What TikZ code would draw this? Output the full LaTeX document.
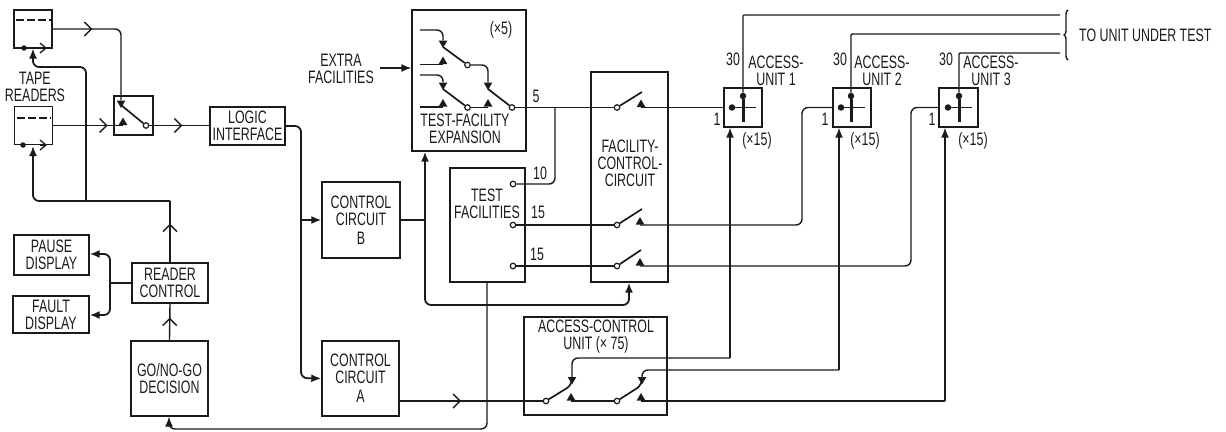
\documentclass[tikz,border=0pt]{standalone}
\usepackage{fontspec}
\setmainfont[FakeStretch=0.69]{Liberation Sans}
\usetikzlibrary{arrows.meta,shapes.geometric,decorations.markings,decorations.pathreplacing}
\definecolor{ink}{HTML}{1A1A1A}
\tikzset{
 blk/.style={draw=ink,line width=1.4pt,inner sep=0pt,align=center,text=ink,font=\fontsize{18}{17}\selectfont},
 lab/.style={inner sep=0pt,align=center,text=ink,font=\fontsize{18}{17}\selectfont},
 conn/.style={draw=ink,line width=1.4pt,rounded corners=6pt},
 heavy/.style={conn,line width=1.8pt},
 ftip/.style={-{Latex[length=10pt,width=8pt]}},
 openat/.style={postaction={decorate,decoration={markings,mark=at position #1 with {\arrow[ink,line width=1.4pt]{Straight Barb[length=7pt,width=14pt]}}}}},
 hole/.style={circle,draw=ink,fill=white,line width=1.2pt,inner sep=0pt,minimum size=5.5pt},
 dot/.style={circle,fill=ink,inner sep=0pt,minimum size=6.5pt},
 triup/.style={regular polygon,regular polygon sides=3,fill=ink,inner sep=0pt,minimum size=10pt},
 tridn/.style={triup,shape border rotate=180},
}
\begin{document}
\begin{tikzpicture}[x=1pt,y=-1pt]
\useasboundingbox (0,0) rectangle (1226,431);
% blocks
\node[blk,minimum width=38pt,minimum height=38pt] (r1) at (33,29) {};
\node[blk,minimum width=38pt,minimum height=38pt] (r2) at (33.5,125.5) {};
\node[lab] (tape) at (35,86.5) {TAPE\\READERS};
\node[blk,minimum width=39pt,minimum height=39pt] (sw) at (133.5,115.5) {};
\node[blk,minimum width=75pt,minimum height=38pt] (logic) at (247.5,126) {LOGIC\\INTERFACE};
\node[blk,minimum width=75pt,minimum height=40pt] (pause) at (51.5,255) {PAUSE\\DISPLAY};
\node[blk,minimum width=76pt,minimum height=37pt] (fault) at (51,314.5) {FAULT\\DISPLAY};
\node[blk,minimum width=76pt,minimum height=40pt] (rc) at (170,283) {READER\\CONTROL};
\node[blk,minimum width=77pt,minimum height=75pt] (go) at (169.5,378.5) {GO/NO-GO\\DECISION};
\node[blk,minimum width=78pt,minimum height=76pt] (ccb) at (361,220) {CONTROL\\CIRCUIT\\[2pt]B};
\node[blk,minimum width=77pt,minimum height=75pt] (cca) at (360.5,378.5) {CONTROL\\CIRCUIT\\[2pt]A};
\node[blk,minimum width=114pt,minimum height=141pt] (tfe) at (469,80.5) {};
\node[lab] (tfel) at (465,128.5) {TEST-FACILITY\\EXPANSION};
\node[lab] (tfem) at (501,30) {(×5)};
\node[lab] (extra) at (341,68.5) {EXTRA\\FACILITIES};
\node[blk,minimum width=75pt,minimum height=114pt] (tf) at (487.5,225) {};
\node[lab] (tfl) at (487,203.5) {TEST\\FACILITIES};
\node[blk,minimum width=77pt,minimum height=210pt] (fcc) at (629.5,177) {};
\node[lab] (fccl) at (630,163.5) {FACILITY-\\CONTROL-\\CIRCUIT};
\node[blk,minimum width=143pt,minimum height=98pt] (acu) at (595.5,366) {};
\node[lab] (acul) at (596,336.5) {ACCESS-CONTROL\\UNIT (× 75)};
\node[blk,minimum width=38pt,minimum height=39pt] (au1) at (743,107.5) {};
\node[blk,minimum width=38pt,minimum height=39pt] (au2) at (852,107.5) {};
\node[blk,minimum width=39pt,minimum height=39pt] (au3) at (958.5,107.5) {};
% labels
\node[lab] (n30a) at (733,59) {30};
\node[lab] (n30b) at (840,59) {30};
\node[lab] (n30c) at (946,59) {30};
\node[lab] (ua) at (776,70.5) {ACCESS-\\UNIT 1};
\node[lab] (ub) at (882,70.5) {ACCESS-\\UNIT 2};
\node[lab] (uc) at (991,71) {ACCESS-\\UNIT 3};
\node[lab] (n1a) at (717,119) {1};
\node[lab] (n1b) at (825,119) {1};
\node[lab] (n1c) at (932,119) {1};
\node[lab] (xa) at (757,141) {(×15)};
\node[lab] (xb) at (865,141) {(×15)};
\node[lab] (xc) at (973,141) {(×15)};
\node[lab] (n5) at (536,96) {5};
\node[lab] (n10) at (540,173) {10};
\node[lab] (n15a) at (538,212) {15};
\node[lab] (n15b) at (537,254) {15};
\node[lab,anchor=west] (uut) at (1079,35) {TO UNIT UNDER TEST};
% reader internals
\draw[ink,line width=1.3pt,dash pattern=on 8pt off 3pt] (16,20) -- (51,20);
\draw[ink,line width=1.3pt,dash pattern=on 8pt off 3pt] (17,118) -- (51,118);
\node[dot,minimum size=5.5pt] (d1) at (24,48) {};
\node[dot,minimum size=5.5pt] (d2) at (23,145) {};
\coordinate (o1) at (47,48);
\coordinate (o1a) at (40,48);
\coordinate (o2) at (47,145);
\coordinate (o2a) at (40,145);
\draw[ink,line width=1.3pt,-{Straight Barb[length=6pt,width=10pt]}] (o1a) -- (o1);
\draw[ink,line width=1.3pt,-{Straight Barb[length=6pt,width=10pt]}] (o2a) -- (o2);
% input selector
\node[tridn] (swd) at (121,103) {};
\node[triup] (swt) at (123,122.5) {};
\node[hole] (swh) at (146,125.5) {};
\draw[conn,line width=1.7pt] (swd.center) ++(0,2) -- (swh);
\draw[conn,openat=0.29] (r1.east) -| (swd);
\draw[conn,openat=0.78] (r2.east) -- (r2.east -| swt);
\draw[conn,openat=0.55] (swh) -- (swh -| logic.west);
% reader control feedback
\coordinate (fb1) at (170,201);
\coordinate (fb2) at (33,201);
\coordinate (fb3) at (86,201);
\coordinate (fb4) at (86,67);
\coordinate (fb5) at (33,67);
\coordinate (r1in) at (33,48.5);
\coordinate (r2in) at (33,146);
\draw[heavy,ftip] (fb1) -- (fb2) -- (r2in);
\draw[heavy,ftip] (fb3) -- (fb4) -- (fb5) -- (r1in);
\draw[conn,line width=1.6pt,openat=0.63] (rc.north) -- (fb1);
\draw[conn,openat=0.62] (go.north) -- (rc.south);
% displays
\coordinate (j0) at (110,283);
\coordinate (j1) at (110,254);
\coordinate (j2) at (110,315);
\draw[conn] (rc.west) -- (j0);
\draw[heavy,ftip] (j0) -- (j1) -- (pause.east |- j1);
\draw[heavy,ftip] (j0) -- (j2) -- (fault.east |- j2);
% logic to control circuits
\coordinate (l1) at (301,126);
\coordinate (l2) at (301,220);
\coordinate (l3) at (301,378);
\draw[heavy] (logic.east) -- (l1) -- (l2);
\draw[heavy,ftip] (l2) -- (l3) -- (cca.west);
\draw[heavy,ftip] (l2) -- (ccb.west);
% control B outputs
\coordinate (b1) at (425,220);
\coordinate (b2) at (425,305);
\coordinate (b3) at (629,305);
\draw[heavy] (ccb.east) -- (b1);
\draw[heavy,ftip] (b1) -- (tfe.south -| b1);
\draw[heavy,ftip] (b1) -- (b2) -- (b3) -- (fcc.south -| b3);
% test facility expansion
\node[tridn] (ea) at (443,43) {};
\node[triup] (eb) at (443,61.5) {};
\node[hole] (ec) at (467.5,65) {};
\node[tridn] (ed) at (488,85) {};
\node[tridn] (ee) at (443,85) {};
\node[triup] (ef) at (443,104) {};
\node[hole] (eg) at (467.5,107.5) {};
\node[triup] (eh) at (488,104) {};
\node[hole] (ei) at (512,107.5) {};
\coordinate (e1) at (420,30);
\coordinate (e2) at (420,64.5);
\coordinate (e3) at (420,75);
\coordinate (e4) at (420,107);
\coordinate (xs) at (380,68);
\draw[conn] (e1) -| (ea);
\draw[conn] (e2) -- (e2 -| eb);
\draw[conn] (e3) -| (ee);
\draw[conn] (e4) -- (e4 -| ef);
\draw[conn,line width=1.7pt] (ea.center) ++(0,4) -- (ec);
\draw[conn,line width=1.7pt] (ee.center) ++(0,4) -- (eg);
\draw[conn,line width=1.7pt] (ed.center) ++(0,4) -- (ei);
\draw[conn] (ec) -| (ed);
\draw[conn] (eg) -- (eg -| eh);
\draw[conn,ftip] (xs) -- (xs -| tfe.west);
% facility-control switches
\node[hole] (fa) at (617,107.5) {};
\node[triup] (fat) at (641,104.5) {};
\coordinate (fab) at (642,92);
\node[hole] (fb) at (617,225) {};
\node[triup] (fbt) at (640,222) {};
\coordinate (fbb) at (642,209);
\node[hole] (fc) at (617,266) {};
\node[triup] (fct) at (640,263) {};
\coordinate (fcb) at (641,250);
\draw[conn,line width=1.7pt] (fa) -- (fab);
\draw[conn,line width=1.7pt] (fb) -- (fbb);
\draw[conn,line width=1.7pt] (fc) -- (fcb);
% test facilities terminals
\node[hole] (ta) at (513,184) {};
\node[hole] (tb) at (513,225) {};
\node[hole] (tc) at (513,266) {};
\coordinate (tj) at (555,107.5);
\draw[conn] (ei) -- (fa);
\draw[conn] (ta) -| (tj);
\draw[conn] (tb) -- (fb);
\draw[conn] (tc) -- (fc);
% outputs to access units
\coordinate (p2) at (802,225);
\coordinate (p3) at (911,266);
\draw[conn] (fat |- fa) -- (au1.west);
\draw[conn] (fbt |- fb) -- (p2) -- (p2 |- au2.west) -- (au2.west);
\draw[conn] (fct |- fc) -- (p3) -- (p3 |- au3.west) -- (au3.west);
% access-control unit
\node[hole] (aa) at (546,401) {};
\node[hole] (ab) at (617,401) {};
\node[tridn] (ac) at (572,379.5) {};
\node[tridn] (ad) at (642,379.5) {};
\node[triup] (at) at (571,398) {};
\node[triup] (bt) at (641,398) {};
\coordinate (ab1) at (572,385);
\coordinate (ab2) at (642,385);
\draw[conn,line width=1.7pt] (aa) -- (ab1) -- (ac.center);
\draw[conn,line width=1.7pt] (ab) -- (ab2) -- (ad.center);
\draw[conn,openat=0.43] (cca.east |- aa) -- (aa);
\draw[conn] (aa -| at) -- (ab);
\coordinate (k1) at (730,358);
\coordinate (k2) at (839,370);
\coordinate (k3) at (945,401);
\coordinate (k1a) at (572,358);
\coordinate (k2a) at (642,370);
\draw[conn] (ac) -- (k1a) -- (k1);
\draw[conn] (ad) -- (k2a) -- (k2);
\draw[conn,line width=1.5pt,ftip] (k1) -- (au1.south -| k1);
\draw[conn,line width=1.5pt,ftip] (k2) -- (au2.south -| k2);
\draw[conn] (bt |- ab) -- (k3);
\draw[conn,line width=1.5pt,ftip] (k3) -- (au3.south -| k3);
% test facilities to go/no-go
\coordinate (q1) at (487,429);
\coordinate (q2) at (169,429);
\draw[conn,ftip] (tf.south -| q1) -- (q1) -- (q2) -- (go.south -| q2);
% access unit internals
\node[dot] (a1d) at (732,107.5) {};
\node[dot] (a1v) at (743,96) {};
\coordinate (a1e) at (756,107.5);
\coordinate (a1b) at (743,122);
\node[dot] (a2d) at (841,107.5) {};
\node[dot] (a2v) at (851,96) {};
\coordinate (a2e) at (865,107.5);
\coordinate (a2b) at (851,122);
\node[dot] (a3d) at (948,107.5) {};
\node[dot] (a3v) at (959,96) {};
\coordinate (a3e) at (972,107.5);
\coordinate (a3b) at (959,122);
\draw[ink,line width=1.4pt] (a1d) -- (a1e);
\draw[ink,line width=1.4pt] (a2d) -- (a2e);
\draw[ink,line width=1.4pt] (a3d) -- (a3e);
\draw[ink,line width=3pt] (a1v) -- (a1b);
\draw[ink,line width=3pt] (a2v) -- (a2b);
\draw[ink,line width=3pt] (a3v) -- (a3b);
% to unit under test
\coordinate (t1) at (1060,15);
\coordinate (t2) at (1060,34);
\coordinate (t3) at (1060,53);
\draw[conn,rounded corners=1pt] (a1v) |- (t1);
\draw[conn,rounded corners=1pt] (a2v) |- (t2);
\draw[conn,rounded corners=1pt] (a3v) |- (t3);
\coordinate (bra) at (1068,10);
\coordinate (brb) at (1068,60);
\draw[ink,line width=1.4pt,decorate,decoration={brace,amplitude=4pt,mirror}] (bra) -- (brb);
\end{tikzpicture}
\end{document}
